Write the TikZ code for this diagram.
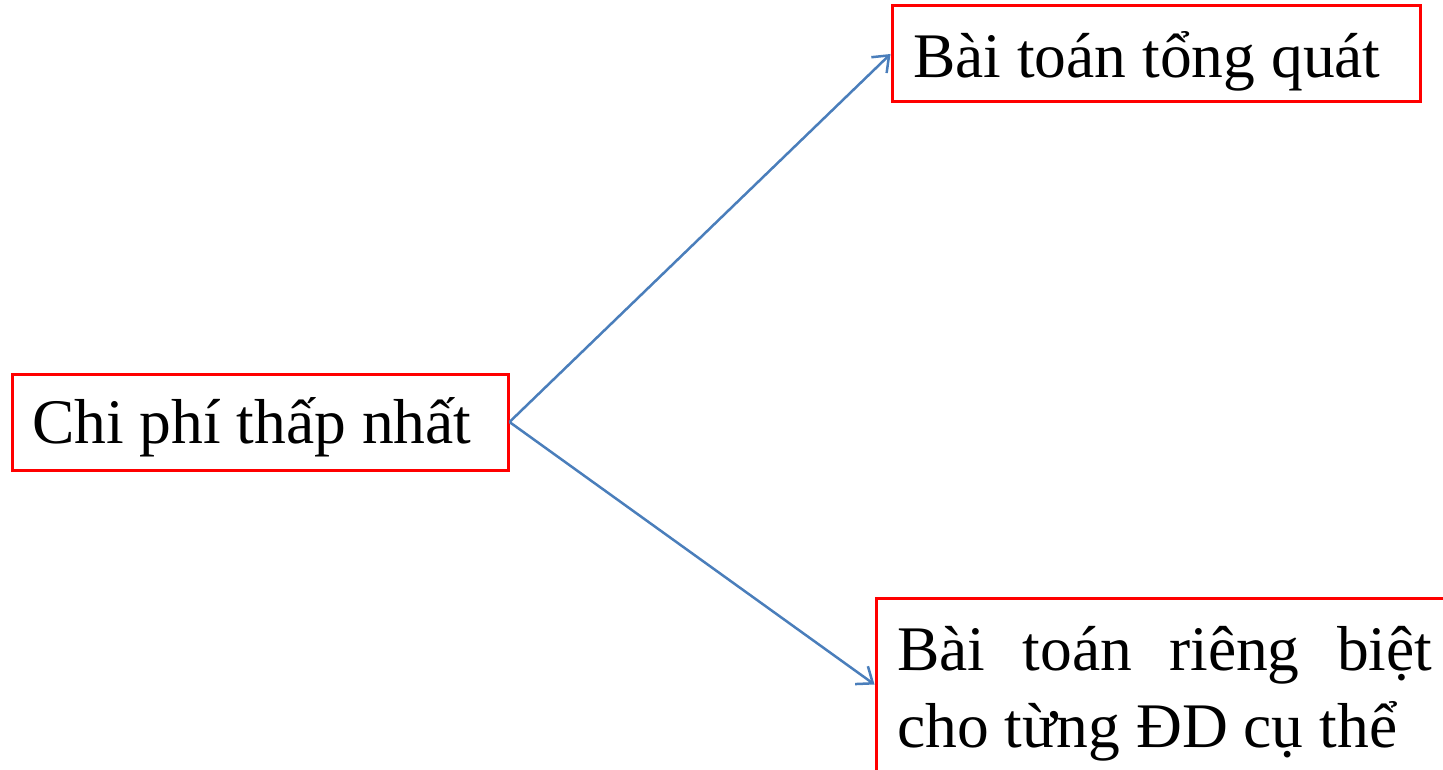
\documentclass[tikz,border=0pt]{standalone}
\usepackage{fontspec}
\setmainfont{Liberation Serif}
\usetikzlibrary{arrows.meta}
\definecolor{boxred}{RGB}{255,0,0}
\definecolor{arrowblue}{RGB}{74,126,187}
\begin{document}
\begin{tikzpicture}[x=1pt,y=-1pt,
  redbox/.style={draw=boxred,line width=3pt,inner sep=0pt,fill=none},
  lbl/.style={inner sep=0pt,anchor=base west,font=\fontsize{63.5}{77}\selectfont},
  conn/.style={draw=arrowblue,line width=2.5pt,-{Straight Barb[length=14pt,width=22pt]}}]
\useasboundingbox (0,0) rectangle (1443,770);
\node[redbox,minimum width=496pt,minimum height=96pt] (a) at (260,422) {};
\node[redbox,minimum width=528pt,minimum height=96pt] (b) at (1156,54) {};
\node[redbox,minimum width=594pt,minimum height=202pt] (c) at (1173,699) {};
\node[lbl] (ta) at (32,443) {Chi phí thấp nhất};
\node[lbl] (tb) at (913,78) {Bài toán tổng quát};
\node[lbl] (tc) at (897,670) {\parbox[t]{535pt}{\fontsize{63.5}{77}\selectfont Bài toán riêng biệt\linebreak cho từng ĐD cụ thể}};
\draw[conn] (a.east) -- (b.west);
\draw[conn] (a.east) -- ([yshift=-88pt]c.north west);
\end{tikzpicture}
\end{document}
